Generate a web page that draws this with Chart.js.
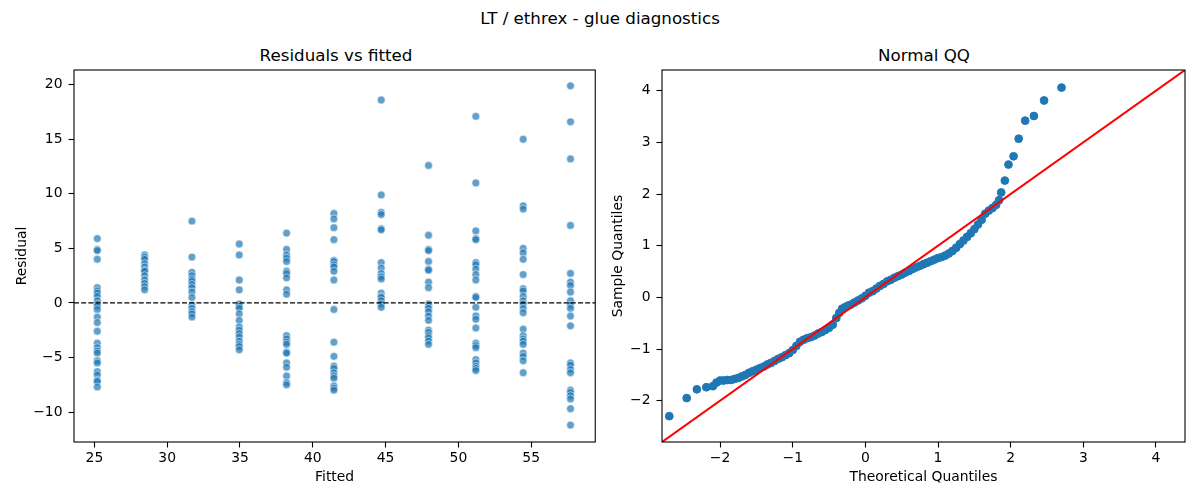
<!DOCTYPE html>
<html>
<head>
<meta charset="utf-8">
<script src="https://cdn.jsdelivr.net/npm/chart.js@4.4.1/dist/chart.umd.min.js"></script>
<style>
    body { margin: 0; background: #fff; width: 1200px; height: 500px; position: relative; overflow: hidden;
           font-family: 'DejaVu Sans', sans-serif; color: #000; }
    .box { position: absolute; top: 60px; width: 600px; height: 440px; }
    .ttl { position: absolute; font-size: 16.7px; line-height: 20px; white-space: nowrap; transform: translateX(-50%); }
</style>
</head>
<body>
<div class="ttl" style="left:600px; top:8px;">LT / ethrex - glue diagnostics</div>
<div class="ttl" style="left:336px; top:45px;">Residuals vs fitted</div>
<div class="ttl" style="left:924px; top:45px;">Normal QQ</div>
<div class="box" style="left:0"><canvas id="residChart"></canvas></div>
<div class="box" style="left:600px"><canvas id="qqChart"></canvas></div>
<script>
const fittedLevels = [25.2, 28.45, 31.7, 34.95, 38.2, 41.45, 44.7, 47.95, 51.2, 54.45, 57.7];
const residualsByLevel = [
    [5.9, 4.9, 4.8, 4.0, 1.4, 1.1, 0.9, 0.6, 0.2, -0.1, -0.3, -0.6, -1.3, -1.8, -2.6, -3.7, -4.1, -4.4, -4.6, -5.3, -5.5, -6.3, -6.6, -7.1, -7.2, -7.7],
    [4.4, 4.2, 4.0, 3.6, 3.3, 3.0, 2.9, 2.5, 2.1, 1.8, 1.5, 1.2],
    [7.5, 4.2, 2.8, 2.5, 2.2, 2.0, 1.7, 1.4, 1.0, 0.5, -0.2, -0.5, -0.8, -1.0, -1.3],
    [5.4, 4.4, 2.1, 1.2, -0.1, -0.3, -0.5, -1.0, -1.6, -2.2, -2.5, -2.8, -3.1, -3.5, -3.8, -4.0, -4.3],
    [6.4, 4.9, 4.4, 4.1, 3.8, 2.9, 2.7, 2.3, 1.2, 0.8, -3.0, -3.3, -3.6, -3.8, -4.5, -4.6, -5.5, -5.9, -6.7, -7.3, -7.5],
    [8.2, 7.7, 6.9, 5.8, 3.9, 3.8, 3.5, 3.3, 2.9, 2.1, -0.6, -3.6, -4.9, -5.8, -6.0, -6.4, -6.7, -6.9, -7.6, -7.8, -8.0],
    [18.6, 9.9, 8.3, 8.1, 6.8, 6.7, 3.7, 3.2, 2.7, 2.4, 2.2, 0.9, 0.6, 0.5, 0.2, -0.1, -0.4],
    [12.6, 6.2, 4.9, 4.8, 3.8, 3.1, 3.0, 1.9, 1.4, -0.1, -0.3, -0.5, -0.8, -1.2, -1.6, -2.5, -2.7, -3.0, -3.2, -3.5, -3.8],
    [17.1, 11.0, 6.6, 5.9, 5.8, 3.7, 3.5, 3.1, 2.6, 2.1, 0.6, 0.5, -0.4, -1.2, -1.5, -2.3, -3.7, -3.9, -4.1, -5.2, -5.5, -5.8, -6.0, -6.2],
    [15.0, 8.9, 8.6, 5.0, 4.6, 4.0, 2.6, 1.3, 1.1, 0.6, 0.2, -0.1, -0.5, -0.9, -2.4, -3.0, -3.3, -3.5, -3.8, -4.6, -4.9, -5.3, -6.4],
    [19.9, 16.6, 13.2, 7.1, 2.7, 1.9, 1.6, 1.0, 0.2, -0.2, -0.5, -1.2, -2.1, -5.5, -5.7, -6.1, -6.4, -8.0, -8.2, -8.5, -8.8, -9.7, -11.2]
];
const residXTicks = [25, 30, 35, 40, 45, 50, 55];
const residYTicks = [-10, -5, 0, 5, 10, 15, 20];

// normal QQ: theoretical vs sample quantiles
const qqTheoretical = [
    -2.70, -2.46, -2.32, -2.19, -2.10, -2.05,
    -2.00, -1.95, -1.90, -1.85, -1.80, -1.75, -1.70, -1.65, -1.60, -1.55, -1.50, -1.45, -1.40, -1.35,
    -1.30, -1.25, -1.20, -1.15, -1.10, -1.05, -1.00, -0.95, -0.90, -0.85, -0.80, -0.75, -0.70, -0.65,
    -0.60, -0.55, -0.50, -0.45, -0.40, -0.36, -0.32, -0.28, -0.24, -0.20, -0.15, -0.10, -0.05, 0.00,
    0.05, 0.10, 0.15, 0.20, 0.25, 0.30, 0.35, 0.40, 0.45, 0.50, 0.55, 0.60, 0.65, 0.70, 0.75, 0.80,
    0.85, 0.90, 0.95, 1.00, 1.05, 1.10, 1.15, 1.20, 1.25, 1.30, 1.35, 1.40, 1.45, 1.50, 1.55, 1.60,
    1.65, 1.70, 1.75, 1.80,
    1.84, 1.87, 1.92, 1.97, 2.04, 2.11, 2.20, 2.32, 2.46, 2.70
];
const qqSample = [
    -2.30, -1.95, -1.78, -1.74, -1.72, -1.65,
    -1.61, -1.61, -1.60, -1.60, -1.58, -1.56, -1.53, -1.50, -1.46, -1.43, -1.40, -1.37, -1.34, -1.30,
    -1.27, -1.23, -1.19, -1.16, -1.12, -1.08, -1.02, -0.94, -0.86, -0.82, -0.79, -0.77, -0.74, -0.70,
    -0.67, -0.63, -0.59, -0.53, -0.40, -0.30, -0.22, -0.19, -0.16, -0.14, -0.10, -0.06, -0.02, 0.03,
    0.09, 0.12, 0.17, 0.22, 0.26, 0.31, 0.34, 0.38, 0.41, 0.44, 0.48, 0.51, 0.55, 0.58, 0.61, 0.64,
    0.67, 0.70, 0.73, 0.76, 0.78, 0.81, 0.85, 0.90, 0.96, 1.03, 1.10, 1.17, 1.24, 1.32, 1.41, 1.50,
    1.62, 1.68, 1.73, 1.79,
    1.88, 2.03, 2.26, 2.57, 2.73, 3.07, 3.42, 3.51, 3.81, 4.06
];
const qqTicks = [-2, -1, 0, 1, 2, 3, 4];

Chart.defaults.font.family = "'DejaVu Sans', sans-serif";
Chart.defaults.font.size = 13.9;
Chart.defaults.color = '#000';

// matplotlib style box round the plot area
const framePlugin = {
    id: 'frame',
    afterDraw(chart) {
        const a = chart.chartArea;
        const ctx = chart.ctx;
        ctx.save();
        ctx.strokeStyle = '#000';
        ctx.lineWidth = 1.1;
        ctx.strokeRect(a.left, a.top, a.right - a.left, a.bottom - a.top);
        ctx.restore();
    }
};

function makeAxis(min, max, ticks, title, size, titlePad, isX) {
    return {
        type: 'linear',
        min: min,
        max: max,
        border: { display: false },
        grid: { drawOnChartArea: false, drawTicks: true, tickLength: 5.5, tickColor: '#000', tickWidth: 1.1 },
        ticks: {
            color: '#000',
            padding: isX ? 3 : 6,
            autoSkip: false,
            maxRotation: 0,
            callback: v => String(v).replace('-', '\u2212')
        },
        afterBuildTicks: s => { s.ticks = ticks.map(v => ({ value: v })); },
        afterFit: s => {
            if (isX) { s.height = size; } else { s.width = size; }
            // no extra room for half labels at the ends, layout padding decides
            s.paddingTop = 0; s.paddingBottom = 0; s.paddingLeft = 0; s.paddingRight = 0;
        },
        title: {
            display: true,
            text: title,
            color: '#000',
            padding: isX ? { top: 0, bottom: titlePad } : { top: titlePad, bottom: 0 }
        }
    };
}

const baseOptions = {
    responsive: true,
    maintainAspectRatio: false,
    animation: false,
    events: [],
    plugins: { legend: { display: false }, tooltip: { enabled: false } }
};

// residuals vs fitted
const residPoints = [];
fittedLevels.forEach((fx, i) => {
    residualsByLevel[i].forEach(r => residPoints.push({ x: fx, y: r }));
});
const residX = [23.6, 59.4];
const residY = [-12.75, 21.35];

new Chart(document.getElementById('residChart'), {
    type: 'scatter',
    data: {
        datasets: [{
            data: [{ x: residX[0], y: 0 }, { x: residX[1], y: 0 }],
            showLine: true,
            pointRadius: 0,
            borderColor: '#000',
            borderWidth: 1.1,
            borderDash: [5, 2.2],
            order: 0
        }, {
            data: residPoints,
            pointRadius: 3.9,
            pointBackgroundColor: 'rgba(31,119,180,0.7)',
            pointBorderColor: 'rgba(255,255,255,0.7)',
            pointBorderWidth: 0.75,
            order: 1
        }]
    },
    options: Object.assign({}, baseOptions, {
        layout: { padding: { left: 0, right: 2.5, top: 10, bottom: 0 } },
        scales: {
            x: makeAxis(residX[0], residX[1], residXTicks, 'Fitted', 58, 14.4, true),
            y: makeAxis(residY[0], residY[1], residYTicks, 'Residual', 74, 13.7, false)
        }
    }),
    plugins: [framePlugin]
});

// normal QQ
const qqRange = [-2.8, 4.4];
const qqPoints = qqTheoretical.map((t, i) => ({ x: t, y: qqSample[i] }));

new Chart(document.getElementById('qqChart'), {
    type: 'scatter',
    data: {
        datasets: [{
            data: [{ x: qqRange[0], y: qqRange[0] }, { x: qqRange[1], y: qqRange[1] }],
            showLine: true,
            pointRadius: 0,
            borderColor: '#ff0000',
            borderWidth: 2,
            order: 0
        }, {
            data: qqPoints,
            pointRadius: 3.9,
            pointBackgroundColor: '#1f77b4',
            pointBorderColor: '#1f77b4',
            pointBorderWidth: 1,
            order: 1
        }]
    },
    options: Object.assign({}, baseOptions, {
        layout: { padding: { left: 0, right: 15, top: 10, bottom: 0 } },
        scales: {
            x: makeAxis(qqRange[0], qqRange[1], qqTicks, 'Theoretical Quantiles', 58, 14.4, true),
            y: makeAxis(qqRange[0], qqRange[1], qqTicks, 'Sample Quantiles', 62, 9.7, false)
        }
    }),
    plugins: [framePlugin]
});
</script>
</body>
</html>
